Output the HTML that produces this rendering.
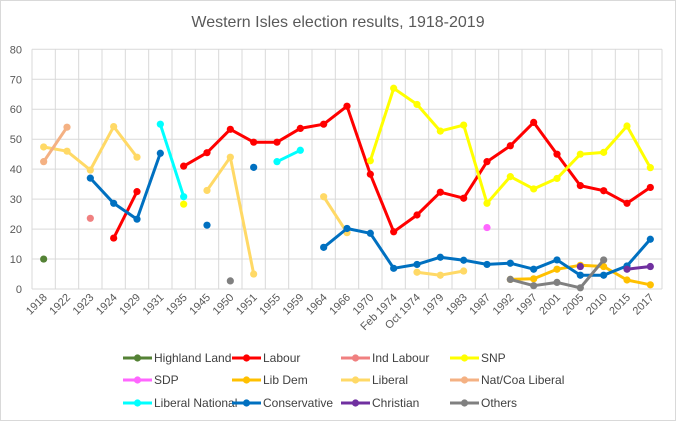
<!DOCTYPE html>
<html><head><meta charset="utf-8">
<style>
html,body{margin:0;padding:0;background:#fff;}
svg{display:block;font-family:"Liberation Sans",sans-serif;}
</style></head>
<body>
<svg id="c" width="676" height="421" xmlns="http://www.w3.org/2000/svg">
<rect x="0.5" y="0.5" width="675" height="420" fill="#fff" stroke="#d9d9d9"/>
<text x="338" y="27" text-anchor="middle" font-size="16" fill="#595959">Western Isles election results, 1918-2019</text>
<g id="grid"></g>
<g id="series"></g>
<g id="labels" font-size="11" fill="#595959"></g>
<g id="legend" font-size="12" fill="#404040"></g>
</svg>
<script>
var NS="http://www.w3.org/2000/svg";
function el(t,a,p,txt){var e=document.createElementNS(NS,t);for(var k in a)e.setAttribute(k,a[k]);if(txt!==undefined)e.textContent=txt;p.appendChild(e);return e;}
var cats=["1918","1922","1923","1924","1929","1931","1935","1945","1950","1951","1955","1959","1964","1966","1970","Feb 1974","Oct 1974","1979","1983","1987","1992","1997","2001","2005","2010","2015","2017"];
var L=32,R=662,Y0=289,Y80=49.3,W=(R-L)/27;
function X(i){return L+W*(i+0.5);}
function Y(v){return Y0-(Y0-Y80)*v/80;}
var g=document.getElementById("grid"),lab=document.getElementById("labels");
for(var v=0;v<=80;v+=10){el("line",{x1:L,x2:R,y1:Y(v),y2:Y(v),stroke:"#d9d9d9","stroke-width":1},g);
 el("text",{x:22,y:Y(v)+4,"text-anchor":"end"},lab,String(v));}
for(var i=0;i<=27;i++){var x=L+W*i;el("line",{x1:x,x2:x,y1:Y80,y2:Y0,stroke:"#d9d9d9","stroke-width":1},g);}
for(var i=0;i<27;i++){var x=X(i)+4,y=298;el("text",{x:x,y:y,"text-anchor":"end",transform:"rotate(-45 "+x+" "+y+")"},lab,cats[i]);}
var n=null;
function arr(o){var a=[];for(var i=0;i<27;i++)a.push(n);for(var k in o)a[cats.indexOf(k)]=o[k];return a;}
var S=[
["Highland Land","#548235",arr({"1918":10})],
["Labour","#ff0000",arr({"1924":17,"1929":32.5,"1935":41,"1945":45.5,"1950":53.3,"1951":49,"1955":49,"1959":53.6,"1964":55,"1966":61,"1970":38.3,"Feb 1974":19.1,"Oct 1974":24.7,"1979":32.3,"1983":30.3,"1987":42.5,"1992":47.8,"1997":55.6,"2001":45,"2005":34.5,"2010":32.8,"2015":28.6,"2017":33.9})],
["Ind Labour","#f08080",arr({"1923":23.6})],
["SNP","#ffff00",arr({"1935":28.3,"1970":42.8,"Feb 1974":67,"Oct 1974":61.6,"1979":52.7,"1983":54.7,"1987":28.6,"1992":37.5,"1997":33.4,"2001":36.9,"2005":45,"2010":45.6,"2015":54.4,"2017":40.5})],
["SDP","#ff66ff",arr({"1987":20.5})],
["Lib Dem","#ffc000",arr({"1992":3.2,"1997":3.4,"2001":6.6,"2005":7.9,"2010":7.5,"2015":3,"2017":1.4})],
["Liberal","#ffd966",arr({"1918":47.4,"1922":46,"1923":39.7,"1924":54.2,"1929":44,"1945":32.9,"1950":44,"1951":5,"1964":30.8,"1966":18.8,"Oct 1974":5.6,"1979":4.6,"1983":6})],
["Nat/Coa Liberal","#f4b183",arr({"1918":42.5,"1922":54})],
["Liberal National","#00ffff",arr({"1931":55,"1935":30.8,"1955":42.5,"1959":46.3})],
["Conservative","#0070c0",arr({"1923":37,"1924":28.6,"1929":23.3,"1931":45.3,"1945":21.3,"1951":40.6,"1964":13.9,"1966":20.2,"1970":18.6,"Feb 1974":6.9,"Oct 1974":8.2,"1979":10.6,"1983":9.6,"1987":8.2,"1992":8.6,"1997":6.6,"2001":9.7,"2005":4.6,"2010":4.6,"2015":7.7,"2017":16.6})],
["Christian","#7030a0",arr({"2005":7.5,"2015":6.6,"2017":7.5})],
["Others","#808080",arr({"1950":2.7,"1992":3.2,"1997":1.1,"2001":2.2,"2005":0.4,"2010":9.7})]
];
var sg=document.getElementById("series");
S.forEach(function(s){var d=s[2],path="",pen=false;
 for(var i=0;i<27;i++){if(d[i]==null){pen=false;continue;}path+=(pen?"L":"M")+X(i).toFixed(1)+" "+Y(d[i]).toFixed(1);pen=true;}
 el("path",{d:path,fill:"none",stroke:s[1],"stroke-width":3,"stroke-linejoin":"round","stroke-linecap":"round"},sg);
 for(var i=0;i<27;i++)if(d[i]!=null)el("circle",{cx:X(i),cy:Y(d[i]),r:3.6,fill:s[1]},sg);
});
var lg=document.getElementById("legend");
var cx=[123,232,341,450],cy=[358,380,403];
S.forEach(function(s,k){var x=cx[k%4],y=cy[Math.floor(k/4)];
 el("line",{x1:x,x2:x+29,y1:y,y2:y,stroke:s[1],"stroke-width":3},lg);
 el("circle",{cx:x+14.5,cy:y,r:3.6,fill:s[1]},lg);
 el("text",{x:x+31,y:y+4},lg,s[0]);
});
</script>
</body></html>
